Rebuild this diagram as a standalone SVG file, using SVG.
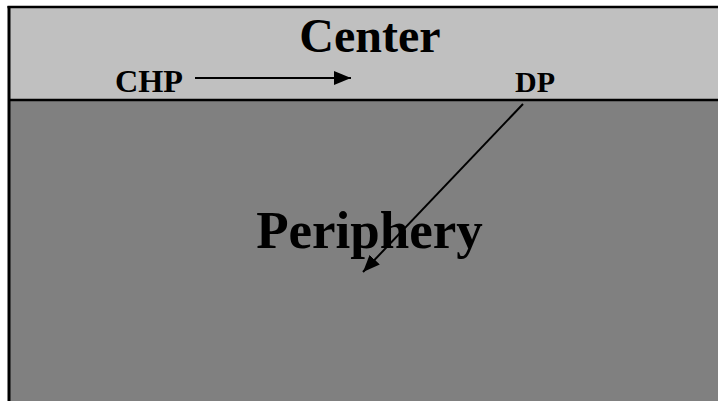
<svg xmlns="http://www.w3.org/2000/svg" width="718" height="401" viewBox="0 0 718 401">
<style>
  .lbl { font-family: "Liberation Serif", "Times New Roman", serif; font-weight: bold; fill: #000; }
  .conn { stroke: #000; stroke-width: 2; fill: none; }
</style>
<defs>
  <marker id="ah" markerUnits="userSpaceOnUse" markerWidth="18" markerHeight="16" refX="17" refY="7" orient="auto">
    <path d="M0,0 L17,7 L0,14 z" fill="#000"/>
  </marker>
</defs>
<rect x="0" y="0" width="718" height="401" fill="#ffffff"/>
<g id="center">
  <rect x="9" y="7" width="712" height="93" fill="#c0c0c0"/>
  <text class="lbl" x="370" y="52" font-size="48" text-anchor="middle">Center</text>
</g>
<g id="periphery">
  <rect x="9" y="100" width="712" height="305" fill="#808080"/>
  <text class="lbl" x="369.5" y="248" font-size="53" text-anchor="middle">Periphery</text>
</g>
<g id="borders">
  <line x1="9" y1="6" x2="9" y2="401" stroke="#000" stroke-width="3"/>
  <line x1="7.5" y1="7" x2="718" y2="7" stroke="#000" stroke-width="2.5"/>
  <line x1="9" y1="100" x2="718" y2="100" stroke="#000" stroke-width="2.5"/>
</g>
<g id="chp">
  <text class="lbl" x="149" y="92" font-size="31" text-anchor="middle" textLength="68" lengthAdjust="spacingAndGlyphs">CHP</text>
</g>
<g id="dp">
  <text class="lbl" x="535" y="92" font-size="30" text-anchor="middle">DP</text>
</g>
<g id="connectors">
  <line class="conn" x1="195" y1="78" x2="351" y2="78" marker-end="url(#ah)"/>
  <line class="conn" x1="523" y1="104" x2="363" y2="272" marker-end="url(#ah)"/>
</g>
</svg>
